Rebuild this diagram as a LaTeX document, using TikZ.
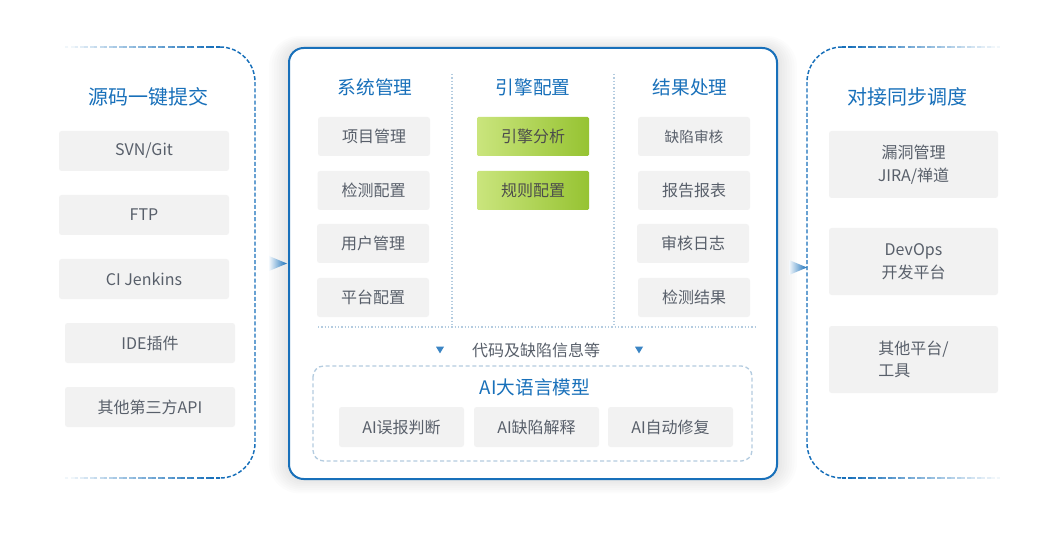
\documentclass[tikz,border=0pt]{standalone}
\usepackage{fontspec}
\setmainfont{Noto Sans CJK SC}
\usepackage{xcolor}
\usetikzlibrary{shapes.geometric,positioning,calc}

\definecolor{titleblue}{RGB}{24,112,186}
\definecolor{boxgray}{RGB}{242,242,242}
\definecolor{textgray}{RGB}{88,95,106}
\definecolor{dotblue}{RGB}{180,204,224}
\definecolor{greenL}{RGB}{202,229,125}
\definecolor{greenR}{RGB}{150,195,50}

\tikzset{
  itembox/.style={fill=boxgray, rounded corners=2pt, inner sep=0pt, text=textgray,
    font=\fontsize{12}{17}\selectfont, minimum width=127.5pt, minimum height=30pt},
  cellbox/.style={itembox, minimum width=84pt, minimum height=29.25pt},
  enginebox/.style={cellbox, fill=none, left color=greenL, right color=greenR, rounded corners=1pt, text=black!70},
  aibox/.style={itembox, minimum width=93.75pt},
  syncbox/.style={itembox, minimum width=126.75pt, minimum height=50.25pt},
  sidetitle/.style={text=titleblue, font=\fontsize{15}{18}\selectfont},
  coltitle/.style={text=titleblue, font=\fontsize{14}{17}\selectfont},
  flowtip/.style={isosceles triangle, isosceles triangle stretches, inner sep=0pt,
    minimum height=13.5pt, minimum width=11.25pt, left color=titleblue!5,
    middle color=titleblue!75, right color=titleblue},
  droptip/.style={isosceles triangle, isosceles triangle stretches, shape border rotate=-90,
    inner sep=0pt, minimum height=5pt, minimum width=6pt, fill=titleblue!85},
  panelline/.style={titleblue, line width=1.1pt, dash pattern=on 3pt off 1.6pt},
  dotline/.style={dotblue, line width=1pt, dash pattern=on 1.1pt off 1.4pt},
}

\begin{document}
\begin{tikzpicture}[x=0.75pt, y=-0.75pt]
    \useasboundingbox[fill=white] (0,0) rectangle (1062,541);

    % Left panel border
    \draw[panelline] (220,47) arc[start angle=-90, end angle=0, radius=35] -- (255,443)
        arc[start angle=0, end angle=90, radius=35];
    \foreach \i in {0,...,15}
        \draw[panelline, opacity={1-\i/16}] ({220-\i*9.7},47) -- ({220-(\i+1)*9.7},47)
            ({220-\i*9.7},478) -- ({220-(\i+1)*9.7},478);

    % Right panel border
    \draw[panelline] (842,47) arc[start angle=-90, end angle=-180, radius=35] -- (807,443)
        arc[start angle=180, end angle=90, radius=35];
    \foreach \i in {0,...,15}
        \draw[panelline, opacity={1-\i/16}] ({842+\i*9.9},47) -- ({842+(\i+1)*9.9},47)
            ({842+\i*9.9},478) -- ({842+(\i+1)*9.9},478);

    % Main frame with soft shadow
    \foreach \s in {1,...,8}
        \fill[black, opacity=0.01, rounded corners={11pt+\s*1.5pt}]
            ({289-\s*2.5},{48-\s*1.5}) rectangle ({777+\s*2.5},{479+\s*1.8});
    \draw[titleblue, line width=1.5pt, fill=white, rounded corners=11pt] (289,48) rectangle (777,479);

    % Source side
    \node[sidetitle] (srcTitle) at (148,97) {源码一键提交};
    \node[itembox] (svn) at (144,151) {SVN/Git};
    \node[itembox] (ftp) at (144,215) {FTP};
    \node[itembox] (ci) at (144,279) {CI Jenkins};
    \node[itembox] (ide) at (150,343) {IDE插件};
    \node[itembox] (api) at (150,407) {其他第三方API};

    % Column headers
    \node[coltitle] (sysTitle) at (375,87) {系统管理};
    \node[coltitle] (engTitle) at (533,87) {引擎配置};
    \node[coltitle] (resTitle) at (690,87) {结果处理};

    % Separators
    \draw[dotline] (452,74) -- (452,327);
    \draw[dotline] (614,74) -- (614,327);
    \draw[dotline] (318,327) -- (756,327);

    % System management
    \node[cellbox] (proj) at (374,136.5) {项目管理};
    \node[cellbox] (check) at (373.5,190.5) {检测配置};
    \node[cellbox] (user) at (373,243.5) {用户管理};
    \node[cellbox] (plat) at (373,297.5) {平台配置};

    % Engine
    \node[enginebox] (analysis) at (533,136.5) {引擎分析};
    \node[enginebox] (rules) at (533,190.5) {规则配置};

    % Results
    \node[cellbox, font=\fontsize{11}{13}\selectfont] (audit) at (694,136.5) {缺陷审核};
    \node[cellbox] (report) at (694,190.5) {报告报表};
    \node[cellbox] (log) at (693,243.5) {审核日志};
    \node[cellbox] (result) at (694,297.5) {检测结果};

    % Hand-over to the model
    \node[droptip] (dropL) at (440,349) {};
    \node[droptip] (dropR) at (639,349) {};
    \node[text=textgray, font=\fontsize{12}{14}\selectfont] (info) at (536,350) {代码及缺陷信息等};

    % AI model
    \draw[dotblue, line width=1pt, dash pattern=on 3pt off 2pt, rounded corners=8pt] (313,366) rectangle (752,461);
    \node[coltitle] (aiTitle) at (535,387) {AI大语言模型};
    \node[aibox] (aiFalse) at (401.5,427) {AI误报判断};
    \node[aibox] (aiExplain) at (536.5,427) {AI缺陷解释};
    \node[aibox] (aiFix) at (670.5,427) {AI自动修复};

    % Flow tips
    \node[flowtip] (tipIn) at (274,263.5) {};
    \node[flowtip] (tipOut) at (794,267.5) {};

    % Sync side
    \node[sidetitle] (syncTitle) at (907,97) {对接同步调度};
    \node[syncbox, align=center] (jira) at (913.5,164.5) {漏洞管理\\JIRA/禅道};
    \node[syncbox, align=center] (devops) at (913.5,261.5) {DevOps\\开发平台};
    \node[syncbox, align=left] (other) at (913.5,359.5) {其他平台/\\工具};
\end{tikzpicture}
\end{document}
